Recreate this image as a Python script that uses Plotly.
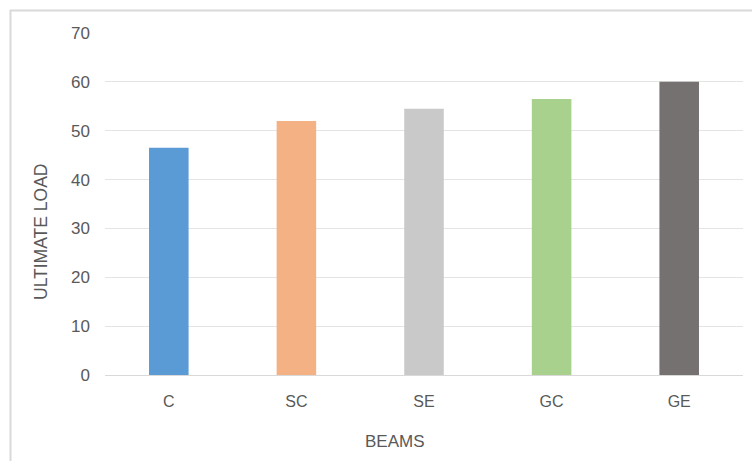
import plotly.graph_objects as go

# Ultimate load per beam type
beams = ["C", "SC", "SE", "GC", "GE"]
ultimate_load = [46.5, 52, 54.5, 56.5, 60]
bar_colors = ["#5B9BD5", "#F4B183", "#C9C9C9", "#A9D18E", "#767171"]
y_ticks = [0, 10, 20, 30, 40, 50, 60, 70]

W, H = 752, 461
left, right, top, bottom = 105, 9, 33, 86
plot_w = W - left - right
plot_h = H - top - bottom


def px_x(x):
    """Pixel column -> paper x."""
    return (x - left) / plot_w


def px_y(y):
    """Pixel row (from top) -> paper y."""
    return (H - bottom - y) / plot_h


fig = go.Figure(
    go.Bar(
        x=beams,
        y=ultimate_load,
        marker=dict(color=bar_colors, line=dict(width=0)),
        width=0.31,
        hoverinfo="x+y",
    )
)

font_family = "Liberation Sans, Arial, sans-serif"
text_color = "#595959"

fig.update_layout(
    width=W,
    height=H,
    margin=dict(l=left, r=right, t=top, b=bottom),
    paper_bgcolor="white",
    plot_bgcolor="white",
    showlegend=False,
    font=dict(family=font_family, size=16, color=text_color),
    xaxis=dict(
        showgrid=False,
        showline=True,
        linecolor="#D9D9D9",
        linewidth=1,
        ticks="",
        ticklabelstandoff=12,
        tickfont=dict(size=16, color=text_color),
        automargin=False,
    ),
    yaxis=dict(
        range=[0, 70],
        tickvals=y_ticks,
        showgrid=True,
        gridcolor="#E4E4E4",
        gridwidth=1,
        zeroline=False,
        showline=False,
        ticks="",
        ticklabelstandoff=14,
        tickfont=dict(size=17, color=text_color),
        automargin=False,
    ),
    annotations=[
        dict(
            text="BEAMS",
            xref="paper", yref="paper",
            x=px_x(395), y=px_y(441),
            xanchor="center", yanchor="middle",
            showarrow=False,
            font=dict(size=17, color=text_color),
        ),
        dict(
            text="ULTIMATE LOAD",
            xref="paper", yref="paper",
            x=px_x(41), y=px_y(232),
            xanchor="center", yanchor="middle",
            textangle=-90,
            showarrow=False,
            font=dict(size=17.5, color=text_color),
        ),
    ],
    shapes=[
        # chart frame (runs past the right and bottom edges)
        dict(
            type="rect",
            xref="paper", yref="paper",
            x0=px_x(10.5), x1=px_x(W + 20),
            y0=px_y(H + 20), y1=px_y(10.5),
            line=dict(color="#D9D9D9", width=2),
            fillcolor="rgba(0,0,0,0)",
            layer="below",
        )
    ],
)

fig.write_html("out.html")
